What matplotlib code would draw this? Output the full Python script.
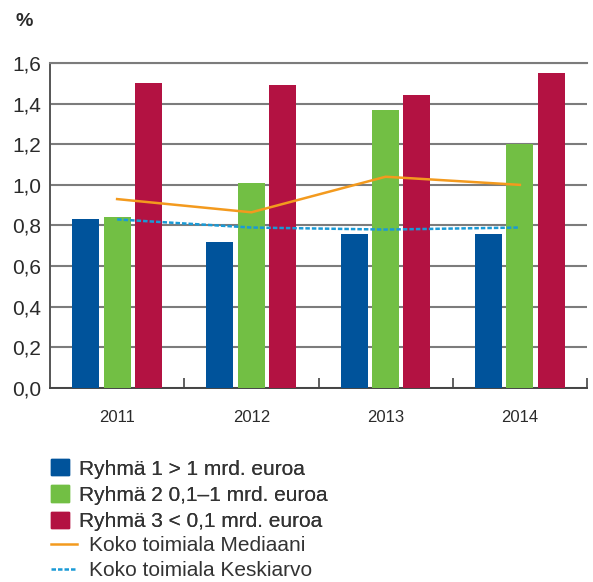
import matplotlib.pyplot as plt
import matplotlib.ticker as mtick
from matplotlib.patches import Patch
from matplotlib.lines import Line2D
import numpy as np

plt.rcParams["font.family"] = ["Liberation Sans", "DejaVu Sans"]

years = ["2011", "2012", "2013", "2014"]
ryhma1 = [0.83, 0.72, 0.76, 0.76]
ryhma2 = [0.84, 1.01, 1.37, 1.20]
ryhma3 = [1.50, 1.49, 1.44, 1.55]
mediaani = [0.93, 0.865, 1.04, 1.00]
keskiarvo = [0.83, 0.79, 0.78, 0.79]

bar_labels = [
    "Ryhmä 1 > 1 mrd. euroa",
    "Ryhmä 2 0,1–1 mrd. euroa",
    "Ryhmä 3 < 0,1 mrd. euroa",
]
line_labels = ["Koko toimiala Mediaani", "Koko toimiala Keskiarvo"]

BLUE = "#00539b"
GREEN = "#72bf44"
RED = "#b31242"
ORANGE = "#f39a1e"
LIGHTBLUE = "#1a9ad6"
GRID = "#7c7c7c"
TEXT = "#2a2a2a"
DOTS = (0, (1.8, 0.8))

fig = plt.figure(figsize=(5.93, 5.82), dpi=100)
ax = fig.add_axes([0.0843, 0.3333, 0.9056, 0.5585])

x = np.arange(len(years))
w = 0.2
ax.bar(x - 0.235, ryhma1, w, color=BLUE, zorder=3)
ax.bar(x, ryhma2, w, color=GREEN, zorder=3)
ax.bar(x + 0.233, ryhma3, w, color=RED, zorder=3)
ax.plot(x, mediaani, color=ORANGE, lw=1.8, zorder=4)
ax.plot(x, keskiarvo, color=LIGHTBLUE, lw=1.8, ls=DOTS, zorder=4)

ax.set_ylim(0, 1.6)
ax.set_xlim(-0.5, len(years) - 0.5)
ax.yaxis.set_major_locator(mtick.MultipleLocator(0.2))
ax.yaxis.set_major_formatter(mtick.FuncFormatter(lambda v, p: f"{v:.1f}".replace(".", ",")))
ax.grid(axis="y", color=GRID, lw=1.5, zorder=1)
ax.tick_params(axis="y", length=0, pad=6.5, labelsize=15, colors=TEXT)

ax.set_xticks(x)
ax.set_xticklabels(years, fontsize=12, color=TEXT)
ax.tick_params(axis="x", length=0, pad=16)
ax.set_xticks(x + 0.5, minor=True)
ax.tick_params(axis="x", which="minor", direction="in", length=7, color="#444444", width=1.2)

ax.spines["right"].set_visible(False)
ax.spines["top"].set_color(GRID)
ax.spines["top"].set_linewidth(1.5)
ax.spines["left"].set_color("#555555")
ax.spines["left"].set_linewidth(1.4)
ax.spines["bottom"].set_color("#444444")
ax.spines["bottom"].set_linewidth(1.4)

fig.text(0.04, 0.963, "%", fontsize=14, fontweight="bold", color=TEXT,
         ha="center", va="center")

bar_handles = [Patch(color=BLUE), Patch(color=GREEN), Patch(color=RED)]
line_handles = [
    Line2D([], [], color=ORANGE, lw=1.8),
    Line2D([], [], color=LIGHTBLUE, lw=1.8, ls=DOTS),
]
leg1 = fig.legend(bar_handles, bar_labels, loc="upper left",
                  bbox_to_anchor=(0.086, 0.211), frameon=False, fontsize=15,
                  handlelength=0.87, handleheight=0.82, handletextpad=0.48,
                  labelspacing=0.33, labelcolor="#333333", borderpad=0,
                  borderaxespad=0)
fig.legend(line_handles, line_labels, loc="upper left",
           bbox_to_anchor=(0.086, 0.079), frameon=False, fontsize=15,
           handlelength=1.25, handletextpad=0.58, labelspacing=0.3,
           labelcolor="#333333", borderpad=0, borderaxespad=0)
fig.add_artist(leg1)

fig.savefig("out.png", dpi=100)
